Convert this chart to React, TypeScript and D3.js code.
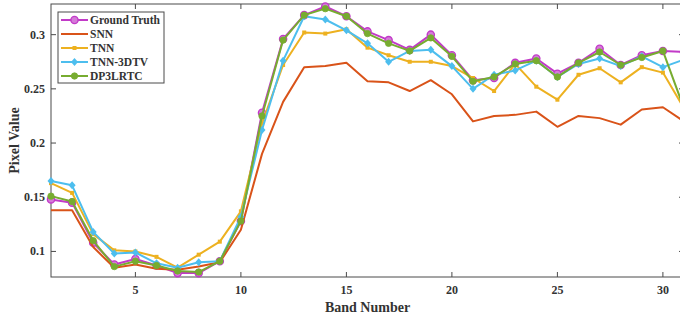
import React from "react";
import * as d3 from "d3";

const bands = [1,2,3,4,5,6,7,8,9,10,11,12,13,14,15,16,17,18,19,20,21,22,23,24,25,26,27,28,29,30,31];
const groundTruth = [0.148,0.145,0.108,0.088,0.093,0.087,0.080,0.080,0.091,0.128,0.228,0.296,0.318,0.326,0.317,0.303,0.295,0.286,0.300,0.281,0.258,0.260,0.274,0.278,0.264,0.274,0.287,0.272,0.281,0.285,0.284];
const snn = [0.138,0.138,0.104,0.085,0.088,0.084,0.083,0.086,0.090,0.120,0.190,0.238,0.270,0.271,0.274,0.257,0.256,0.248,0.258,0.245,0.220,0.225,0.226,0.229,0.215,0.225,0.223,0.217,0.231,0.233,0.220];
const tnn = [0.163,0.154,0.116,0.101,0.100,0.095,0.085,0.097,0.109,0.137,0.218,0.272,0.302,0.301,0.305,0.288,0.281,0.275,0.275,0.271,0.260,0.248,0.273,0.252,0.240,0.263,0.269,0.256,0.270,0.265,0.232];
const tnn3dtv = [0.165,0.161,0.118,0.098,0.099,0.089,0.085,0.090,0.091,0.132,0.212,0.276,0.317,0.314,0.304,0.292,0.275,0.285,0.286,0.271,0.250,0.263,0.267,0.276,0.261,0.273,0.278,0.271,0.280,0.270,0.277];
const dp3lrtc = [0.151,0.146,0.110,0.086,0.091,0.087,0.082,0.081,0.091,0.128,0.225,0.295,0.318,0.324,0.317,0.301,0.292,0.285,0.297,0.280,0.257,0.261,0.273,0.276,0.261,0.274,0.284,0.272,0.279,0.285,0.232];

const xTicks = [5,10,15,20,25,30];
const yTicks = [0.1,0.15,0.2,0.25,0.3];

type Series = { name: string; values: number[]; color: string; marker: "circle" | "none" | "square" | "diamond" | "dot" };
const series: Series[] = [
  { name: "Ground Truth", values: groundTruth, color: "#c23ac8", marker: "circle" },
  { name: "SNN", values: snn, color: "#d95319", marker: "none" },
  { name: "TNN", values: tnn, color: "#edb120", marker: "square" },
  { name: "TNN-3DTV", values: tnn3dtv, color: "#4dbeee", marker: "diamond" },
  { name: "DP3LRTC", values: dp3lrtc, color: "#77ac30", marker: "dot" },
];

const W = 680, H = 320;
const left = 51, right = 684, top = 4, bottom = 277;
const font = "'Liberation Serif', 'Times New Roman', serif";
const axisColor = "#4a4a4a";

function Marker({ kind, x, y, color }: { kind: string; x: number; y: number; color: string }) {
  if (kind === "circle") return <circle cx={x} cy={y} r={3.6} fill="#d47ad8" stroke={color} strokeWidth={1.4} />;
  if (kind === "dot") return <circle cx={x} cy={y} r={3.2} fill={color} stroke={color} strokeWidth={0.8} />;
  if (kind === "square") return <rect x={x - 2} y={y - 2} width={4} height={4} fill={color} />;
  if (kind === "diamond") return <path d={`M${x},${y - 4}L${x + 3.5},${y}L${x},${y + 4}L${x - 3.5},${y}Z`} fill={color} />;
  return null;
}

export default function App() {
  const x = d3.scaleLinear().domain([1, 31]).range([left, right]);
  const y = d3.scaleLinear().domain([0.0764, 0.3283]).range([bottom, top]);
  const line = d3.line<number>().x((_, i) => x(bands[i])).y((v) => y(v));

  return (
    <svg width={W} height={H} style={{ position: "absolute", left: 0, top: 0, background: "#fff" }}>
      {/* axes box */}
      <rect x={left} y={top} width={right - left} height={bottom - top} fill="#fff" stroke={axisColor} strokeWidth={1} />
      {xTicks.map((t) => (
        <g key={"xt" + t}>
          <line x1={x(t)} x2={x(t)} y1={bottom} y2={bottom - 5} stroke={axisColor} />
          <line x1={x(t)} x2={x(t)} y1={top} y2={top + 5} stroke={axisColor} />
          <text x={x(t)} y={294} textAnchor="middle" fontFamily={font} fontWeight="bold" fontSize={12} fill="#333">{t}</text>
        </g>
      ))}
      {yTicks.map((t) => (
        <g key={"yt" + t}>
          <line x1={left} x2={left + 5} y1={y(t)} y2={y(t)} stroke={axisColor} />
          <line x1={right} x2={right - 5} y1={y(t)} y2={y(t)} stroke={axisColor} />
          <text x={45} y={y(t) + 4} textAnchor="end" fontFamily={font} fontWeight="bold" fontSize={12} fill="#333">{d3.format("~g")(t)}</text>
        </g>
      ))}
      <text x={(left + right) / 2} y={312} textAnchor="middle" fontFamily={font} fontWeight="bold" fontSize={14} fill="#333">Band Number</text>
      <text transform={`translate(19,${(top + bottom) / 2}) rotate(-90)`} textAnchor="middle" fontFamily={font} fontWeight="bold" fontSize={14} fill="#333">Pixel Value</text>

      {series.map((s) => (
        <g key={s.name}>
          <path d={line(s.values) || ""} fill="none" stroke={s.color} strokeWidth={2} strokeLinejoin="round" />
          {s.values.map((v, i) => (
            <Marker key={i} kind={s.marker} x={x(bands[i])} y={y(v)} color={s.color} />
          ))}
        </g>
      ))}

      {/* legend */}
      <rect x={58} y={12} width={106} height={71} fill="#fff" stroke={axisColor} strokeWidth={1} />
      {series.map((s, i) => {
        const ly = 20 + i * 14;
        return (
          <g key={"lg" + s.name}>
            <line x1={61} x2={88} y1={ly} y2={ly} stroke={s.color} strokeWidth={2} />
            <Marker kind={s.marker} x={74.5} y={ly} color={s.color} />
            <text x={90} y={ly + 4} fontFamily={font} fontWeight="bold" fontSize={11.5} fill="#333">{s.name}</text>
          </g>
        );
      })}
    </svg>
  );
}
